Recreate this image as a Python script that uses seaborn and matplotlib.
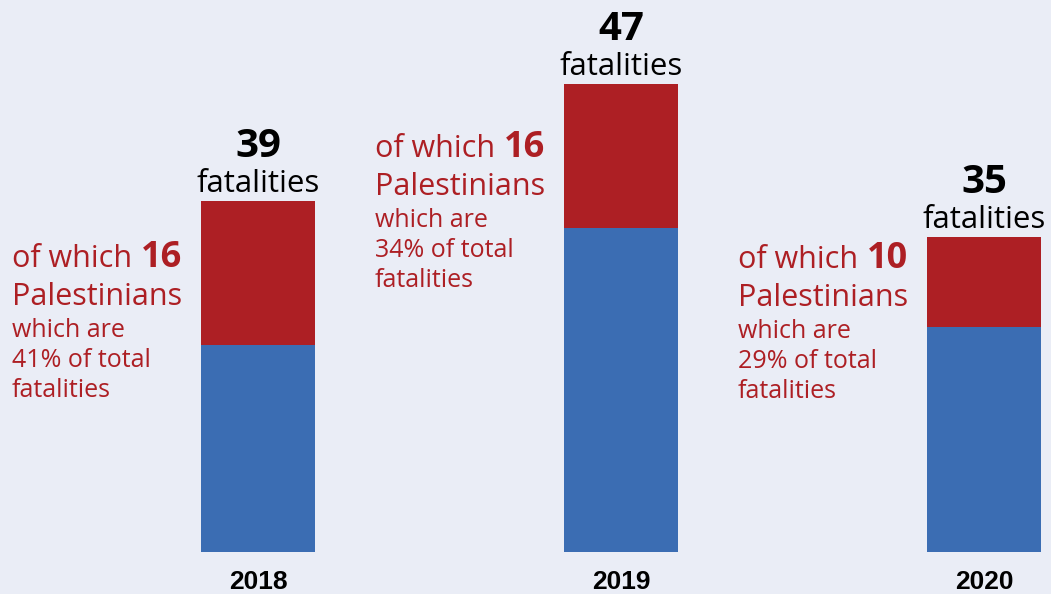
import matplotlib
matplotlib.use("Agg")
import matplotlib.pyplot as plt
import seaborn as sns
import pandas as pd

# ---- data ----
years = ["2018", "2019", "2020"]
total_fatalities = [39, 47, 35]
palestinians = [16, 16, 10]
pct_of_total = [41, 34, 29]
other_segment = [23, 36, 25]   # blue segment heights as drawn in the chart

# ---- style ----
BG = "#EAEDF6"
RED = "#AD1F24"
BLUE = "#3B6DB3"
FONT = ["Open Sans", "DejaVu Sans"]

sns.set_theme(style="white")
plt.rcParams["font.family"] = FONT

W, H = 1051, 594
PX = 9.0            # pixels per fatality
BOTTOM_PX = 552
fig = plt.figure(figsize=(W / 100, H / 100), dpi=100, facecolor=BG)
ax = fig.add_axes([0, (H - BOTTOM_PX) / H, 1, BOTTOM_PX / H])
ax.set_facecolor(BG)

df = pd.DataFrame({"year": years, "other": other_segment, "pal": palestinians})
df["stack"] = df["other"] + df["pal"]

bw = 114 / 363
sns.barplot(data=df, x="year", y="stack", order=years, color=RED, width=bw,
            saturation=1, linewidth=0, ax=ax)
sns.barplot(data=df, x="year", y="other", order=years, color=BLUE, width=bw,
            saturation=1, linewidth=0, ax=ax)

ax.set_xlim(-258 / 363, (W - 258) / 363)
ax.set_ylim(0, BOTTOM_PX / PX)
for s in ax.spines.values():
    s.set_visible(False)
ax.set_yticks([])
ax.set_xlabel("")
ax.set_ylabel("")
ax.tick_params(axis="x", length=0, pad=13)
for lab in ax.get_xticklabels():
    lab.set_fontfamily(["Liberation Sans", "DejaVu Sans"])
    lab.set_fontweight("bold")
    lab.set_fontsize(19)
    lab.set_color("black")

# ---- labels above bars ----
for i, top in enumerate(df["stack"]):
    ax.annotate("fatalities", xy=(i, top), xytext=(0, 6.5), textcoords="offset points",
                ha="center", va="baseline", fontsize=22.5, color="black")
    ax.annotate(f"{total_fatalities[i]}", xy=(i, top), xytext=(0, 32), textcoords="offset points",
                ha="center", va="baseline", fontsize=29, fontweight="bold", color="black")

# ---- red notes (layout) ----
note_first_baseline_px = [267, 157, 268]
line_offsets_px = [0, 38, 70, 100, 130]
note_dx = -0.678

def py(px):
    return (BOTTOM_PX - px) / PX

fig.canvas.draw()
renderer = fig.canvas.get_renderer()
for i in range(len(years)):
    x0 = i + note_dx
    b = note_first_baseline_px[i]
    t1 = ax.text(x0, py(b + line_offsets_px[0]), "of which", fontsize=22, color=RED,
                 ha="left", va="baseline")
    ext = t1.get_window_extent(renderer=renderer)
    x_end = ax.transData.inverted().transform((ext.x1 + 9, 0))[0]
    ax.text(x_end, py(b + line_offsets_px[0]), f"{palestinians[i]}", fontsize=26,
            fontweight="bold", color=RED, ha="left", va="baseline")
    ax.text(x0, py(b + line_offsets_px[1]), "Palestinians", fontsize=22, color=RED,
            ha="left", va="baseline")
    ax.text(x0, py(b + line_offsets_px[2]), "which are", fontsize=18, color=RED,
            ha="left", va="baseline")
    ax.text(x0, py(b + line_offsets_px[3]), f"{pct_of_total[i]}% of total", fontsize=18,
            color=RED, ha="left", va="baseline")
    ax.text(x0, py(b + line_offsets_px[4]), "fatalities", fontsize=18, color=RED,
            ha="left", va="baseline")

fig.savefig("out.png", dpi=100, facecolor=BG)
